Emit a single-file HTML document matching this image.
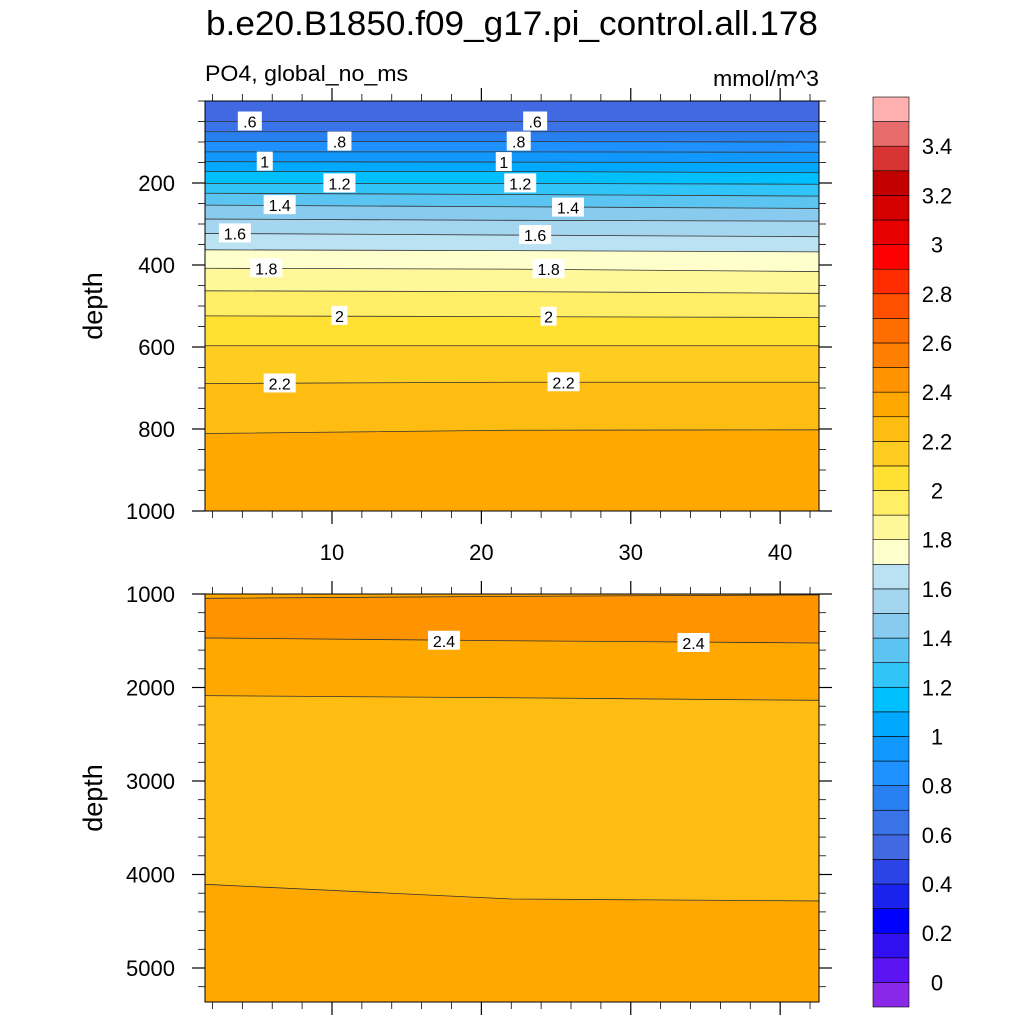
<!DOCTYPE html>
<html><head><meta charset="utf-8"><style>
html,body{margin:0;padding:0;background:#fff;}
svg{display:block;font-family:"Liberation Sans",Arial,sans-serif;}
</style></head><body>
<svg id="chart" width="1024" height="1024" viewBox="0 0 1024 1024">
<text x="512" y="35" font-size="34" text-anchor="middle" textLength="612" lengthAdjust="spacingAndGlyphs">b.e20.B1850.f09_g17.pi_control.all.178</text>
<text x="205" y="81" font-size="22" textLength="203" lengthAdjust="spacingAndGlyphs">PO4, global_no_ms</text>
<text x="819" y="86" font-size="22" text-anchor="end" textLength="106" lengthAdjust="spacingAndGlyphs">mmol/m^3</text>
<text transform="translate(102,306) rotate(-90)" font-size="27" text-anchor="middle">depth</text>
<text transform="translate(102,798) rotate(-90)" font-size="27" text-anchor="middle">depth</text>
<g id="top"></g>
<g id="bot"></g>
<g id="cbar"></g>
</svg>
<script>
const NS='http://www.w3.org/2000/svg';
// data
const xSamples=[1.5,22,42.6];
const topLevels=[0.6,0.7,0.8,0.9,1.0,1.1,1.2,1.3,1.4,1.5,1.6,1.7,1.8,1.9,2.0,2.1,2.2,2.3];
const topDepths=[[50,50,50],[75,75,75],[99,99,100],[124,124,125],[148,149,150],[172,172,175],[201,201,203],[225,228,232],[254,258,262],[288,291,293],[323,327,331],[363,365,368],[408,410,416],[463,465,469],[524,526,528],[597,597,597],[689,686,686],[811,803,802]];
const topLabels=[[".6",4.5,50],[".6",23.6,50],[".8",10.5,99],[".8",22.5,99],["1",5.5,148],["1",21.5,149],["1.2",10.5,201],["1.2",22.6,201],["1.4",6.5,254],["1.4",25.8,260],["1.6",3.5,323],["1.6",23.6,327],["1.8",5.6,408],["1.8",24.5,410],["2",10.5,524],["2",24.5,526],["2.2",6.5,689],["2.2",25.5,686]];
const botLevels=[2.4,2.4,2.3,2.3];
const botDepths=[[1046,1025,1010],[1470,1500,1524],[2087,2110,2137],[4105,4262,4283]];
const botBandBelow=[2.45,2.35,2.25,2.35];
const botTopBand=2.35;
const botLabels=[["2.4",17.5,1500],["2.4",34.2,1524]];
const cbLevels=[];for(let i=0;i<=37;i++)cbLevels.push(-0.1+i*0.1);
const cbColors=["#8A28E8","#5C14F2","#3010F0","#0000FF","#1A22EE","#2A44E6","#4169E1","#3A72E8","#2880F0","#1E90FF","#1098FF","#00A8FF","#00BFFF","#30C4F8","#5CC4F0","#88CBEE","#A4D6F0","#BBE2F3","#FFFFCC","#FFF89A","#FFEE66","#FFE033","#FFCC22","#FFBC12","#FFA800","#FF9400","#FF8000","#FF6C00","#FF5000","#FF2C00","#FF0000","#E80000","#D40000","#C20000","#D83434","#E86C6C","#FFB0B0"];
const cbTickVals=[0,0.2,0.4,0.6,0.8,1,1.2,1.4,1.6,1.8,2,2.2,2.4,2.6,2.8,3,3.2,3.4];
const cbTickText=["0","0.2","0.4","0.6","0.8","1","1.2","1.4","1.6","1.8","2","2.2","2.4","2.6","2.8","3","3.2","3.4"];
const xTicks=[10,20,30,40];
const topYTicks=[200,400,600,800,1000];
const botYTicks=[1000,2000,3000,4000,5000];

function colorFor(v){let i=Math.floor((v+0.1)/0.1+1e-6);i=Math.max(0,Math.min(cbColors.length-1,i));return cbColors[i];}
function el(tag,attrs,parent){const e=document.createElementNS(NS,tag);for(const k in attrs)e.setAttribute(k,attrs[k]);parent.appendChild(e);return e;}
const L=205,R=819,X0=1.5,X1=42.6;
const sx=v=>L+(v-X0)/(X1-X0)*(R-L);

function panel(g,T,B,D0,D1,levels,depths,below,topBand,labels,yTicks,minorStep,showX,nameP){
  const sy=d=>T+(d-D0)/(D1-D0)*(B-T);
  const bg=el('rect',{x:L,y:T,width:R-L,height:B-T,fill:colorFor(topBand)},g);
  
  
  levels.forEach((lv,i)=>{
    const pts=xSamples.map((x,j)=>sx(x)+','+sy(depths[i][j]));
    const poly=el('polygon',{points:pts.join(' ')+' '+R+','+B+' '+L+','+B,fill:colorFor(below[i])},g);
    
    
  });
  levels.forEach((lv,i)=>{
    const pts=xSamples.map((x,j)=>sx(x)+','+sy(depths[i][j]));
    const line=el('polyline',{points:pts.join(' '),fill:'none',stroke:'#333',"stroke-width":0.8},g);
    
    
  });
  labels.forEach(lb=>{
    const x=sx(lb[1]),y=sy(lb[2]);const w=lb[0].length*8+8;
    const r=el('rect',{x:x-w/2,y:y-10,width:w,height:19,fill:'#fff'},g);
    
    
    const t=el('text',{x:x,y:y+6,"font-size":16,"text-anchor":"middle"},g);
    t.textContent=lb[0];
    
    
  });
  const fr=el('rect',{x:L,y:T,width:R-L,height:B-T,fill:'none',stroke:'#000',"stroke-width":1},g);
  
  
  for(let d=Math.ceil(D0/minorStep)*minorStep;d<=D1;d+=minorStep){
    const y=sy(d);const major=yTicks.includes(d);const len=major?13:7;
    el('line',{x1:L-len,x2:L,y1:y,y2:y,stroke:'#000',"stroke-width":major?1.2:0.8},g);
    el('line',{x1:R,x2:R+len,y1:y,y2:y,stroke:'#000',"stroke-width":major?1.2:0.8},g);
  }
  yTicks.forEach(d=>{const t=el('text',{x:175,y:sy(d)+8,"font-size":22,"text-anchor":"end"},g);t.textContent=d;
    });
  for(let x=2;x<=42;x+=2){
    const major=xTicks.includes(x);const len=major?13:7;const px=sx(x);
    el('line',{x1:px,x2:px,y1:T-len,y2:T,stroke:'#000',"stroke-width":major?1.2:0.8},g);
    el('line',{x1:px,x2:px,y1:B,y2:B+len,stroke:'#000',"stroke-width":major?1.2:0.8},g);
  }
  if(showX)xTicks.forEach(x=>{const t=el('text',{x:sx(x),y:B+49,"font-size":22,"text-anchor":"middle"},g);t.textContent=x;
    });
}
panel(document.getElementById('top'),101,511,0,1000,topLevels,topDepths,topLevels.map(v=>v+0.05),0.55,topLabels,topYTicks,50,true,'top');
panel(document.getElementById('bot'),594,1002,1000,1000+(1002-594)/93.5*1000,botLevels,botDepths,botBandBelow,botTopBand,botLabels,botYTicks,200,false,'bottom');

const cb=document.getElementById('cbar');const CT=97,CB=1007,CL=873,CR=909;
const cy=v=>CB-(v-cbLevels[0])/(cbLevels[cbLevels.length-1]-cbLevels[0])*(CB-CT);
for(let i=0;i<cbColors.length;i++){
  const y0=cy(cbLevels[i]),y1=cy(cbLevels[i+1]);
  const r=el('rect',{x:CL,y:y1,width:CR-CL,height:y0-y1,fill:cbColors[i],stroke:'#000',"stroke-width":0.6},cb);
  
  
}
cbTickVals.forEach((v,i)=>{const t=el('text',{x:937,y:cy(v)+8,"font-size":22,"text-anchor":"middle"},cb);t.textContent=cbTickText[i];
  });
</script>
</body></html>
